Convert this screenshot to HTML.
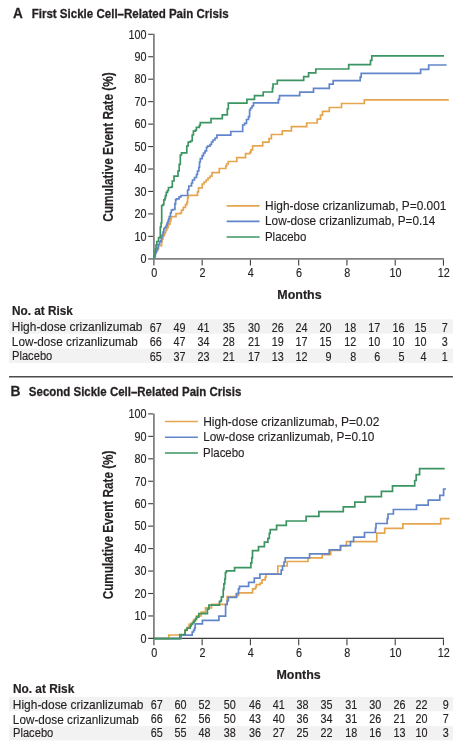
<!DOCTYPE html>
<html><head><meta charset="utf-8"><title>Figure</title>
<style>
html,body{margin:0;padding:0;background:#fff;}
body{width:461px;height:755px;overflow:hidden;}
svg{display:block;font-family:"Liberation Sans", sans-serif;}
</style></head>
<body>
<svg width="461" height="755" viewBox="0 0 461 755">
<rect width="461" height="755" fill="#fff"/>
<g style="opacity:0.995">
<text x="14.13" y="18.20" transform="scale(0.92,1)" font-size="14.8" font-weight="bold" fill="#231f20" stroke="#231f20" stroke-width="0.25">A</text>
<text x="36.70" y="17.90" transform="scale(0.8621,1)" font-size="13.4" font-weight="bold" fill="#231f20" stroke="#231f20" stroke-width="0.3">First Sickle Cell–Related Pain Crisis</text>
<text transform="translate(113.3,221.7) rotate(-90) scale(0.842,1)" font-size="14" font-weight="bold" fill="#231f20" stroke="#231f20" stroke-width="0.2">Cumulative Event Rate (%)</text>
<line x1="153.90" y1="33.80" x2="153.90" y2="259.70" stroke="#808080" stroke-width="1.8"/>
<line x1="148.20" y1="258.80" x2="443.96" y2="258.80" stroke="#808080" stroke-width="1.8"/>
<line x1="148.20" y1="236.35" x2="153.00" y2="236.35" stroke="#3c3c3c" stroke-width="1.1"/>
<text x="162.89" y="240.65" transform="scale(0.9,1)" font-size="12.0" font-weight="normal" text-anchor="end" fill="#231f20"  stroke="#231f20" stroke-width="0.15">10</text>
<line x1="148.20" y1="213.90" x2="153.00" y2="213.90" stroke="#3c3c3c" stroke-width="1.1"/>
<text x="162.89" y="218.20" transform="scale(0.9,1)" font-size="12.0" font-weight="normal" text-anchor="end" fill="#231f20"  stroke="#231f20" stroke-width="0.15">20</text>
<line x1="148.20" y1="191.45" x2="153.00" y2="191.45" stroke="#3c3c3c" stroke-width="1.1"/>
<text x="162.89" y="195.75" transform="scale(0.9,1)" font-size="12.0" font-weight="normal" text-anchor="end" fill="#231f20"  stroke="#231f20" stroke-width="0.15">30</text>
<line x1="148.20" y1="169.00" x2="153.00" y2="169.00" stroke="#3c3c3c" stroke-width="1.1"/>
<text x="162.89" y="173.30" transform="scale(0.9,1)" font-size="12.0" font-weight="normal" text-anchor="end" fill="#231f20"  stroke="#231f20" stroke-width="0.15">40</text>
<line x1="148.20" y1="146.55" x2="153.00" y2="146.55" stroke="#3c3c3c" stroke-width="1.1"/>
<text x="162.89" y="150.85" transform="scale(0.9,1)" font-size="12.0" font-weight="normal" text-anchor="end" fill="#231f20"  stroke="#231f20" stroke-width="0.15">50</text>
<line x1="148.20" y1="124.10" x2="153.00" y2="124.10" stroke="#3c3c3c" stroke-width="1.1"/>
<text x="162.89" y="128.40" transform="scale(0.9,1)" font-size="12.0" font-weight="normal" text-anchor="end" fill="#231f20"  stroke="#231f20" stroke-width="0.15">60</text>
<line x1="148.20" y1="101.65" x2="153.00" y2="101.65" stroke="#3c3c3c" stroke-width="1.1"/>
<text x="162.89" y="105.95" transform="scale(0.9,1)" font-size="12.0" font-weight="normal" text-anchor="end" fill="#231f20"  stroke="#231f20" stroke-width="0.15">70</text>
<line x1="148.20" y1="79.20" x2="153.00" y2="79.20" stroke="#3c3c3c" stroke-width="1.1"/>
<text x="162.89" y="83.50" transform="scale(0.9,1)" font-size="12.0" font-weight="normal" text-anchor="end" fill="#231f20"  stroke="#231f20" stroke-width="0.15">80</text>
<line x1="148.20" y1="56.75" x2="153.00" y2="56.75" stroke="#3c3c3c" stroke-width="1.1"/>
<text x="162.89" y="61.05" transform="scale(0.9,1)" font-size="12.0" font-weight="normal" text-anchor="end" fill="#231f20"  stroke="#231f20" stroke-width="0.15">90</text>
<line x1="148.20" y1="34.30" x2="153.00" y2="34.30" stroke="#3c3c3c" stroke-width="1.1"/>
<text x="162.89" y="38.60" transform="scale(0.9,1)" font-size="12.0" font-weight="normal" text-anchor="end" fill="#231f20"  stroke="#231f20" stroke-width="0.15">100</text>
<text x="162.89" y="263.10" transform="scale(0.9,1)" font-size="12.0" font-weight="normal" text-anchor="end" fill="#231f20"  stroke="#231f20" stroke-width="0.15">0</text>
<line x1="153.90" y1="259.70" x2="153.90" y2="265.60" stroke="#3c3c3c" stroke-width="1.1"/>
<text x="171.33" y="277.30" transform="scale(0.9,1)" font-size="12.0" font-weight="normal" text-anchor="middle" fill="#231f20"  stroke="#231f20" stroke-width="0.15">0</text>
<line x1="202.16" y1="259.70" x2="202.16" y2="265.60" stroke="#3c3c3c" stroke-width="1.1"/>
<text x="224.96" y="277.30" transform="scale(0.9,1)" font-size="12.0" font-weight="normal" text-anchor="middle" fill="#231f20"  stroke="#231f20" stroke-width="0.15">2</text>
<line x1="250.42" y1="259.70" x2="250.42" y2="265.60" stroke="#3c3c3c" stroke-width="1.1"/>
<text x="278.58" y="277.30" transform="scale(0.9,1)" font-size="12.0" font-weight="normal" text-anchor="middle" fill="#231f20"  stroke="#231f20" stroke-width="0.15">4</text>
<line x1="298.68" y1="259.70" x2="298.68" y2="265.60" stroke="#3c3c3c" stroke-width="1.1"/>
<text x="332.20" y="277.30" transform="scale(0.9,1)" font-size="12.0" font-weight="normal" text-anchor="middle" fill="#231f20"  stroke="#231f20" stroke-width="0.15">6</text>
<line x1="346.94" y1="259.70" x2="346.94" y2="265.60" stroke="#3c3c3c" stroke-width="1.1"/>
<text x="385.82" y="277.30" transform="scale(0.9,1)" font-size="12.0" font-weight="normal" text-anchor="middle" fill="#231f20"  stroke="#231f20" stroke-width="0.15">8</text>
<line x1="395.20" y1="259.70" x2="395.20" y2="265.60" stroke="#3c3c3c" stroke-width="1.1"/>
<text x="439.44" y="277.30" transform="scale(0.9,1)" font-size="12.0" font-weight="normal" text-anchor="middle" fill="#231f20"  stroke="#231f20" stroke-width="0.15">10</text>
<line x1="443.46" y1="259.70" x2="443.46" y2="265.60" stroke="#3c3c3c" stroke-width="1.1"/>
<text x="493.07" y="277.30" transform="scale(0.9,1)" font-size="12.0" font-weight="normal" text-anchor="middle" fill="#231f20"  stroke="#231f20" stroke-width="0.15">12</text>
<text x="266.95" y="299.30" transform="scale(1.039,1)" font-size="12.0" font-weight="bold" fill="#231f20" stroke="#231f20" stroke-width="0.2">Months</text>
<line x1="226.60" y1="205.80" x2="259.60" y2="205.80" stroke="#e5a54e" stroke-width="1.7"/>
<text x="283.03" y="209.60" transform="scale(0.9365,1)" font-size="12.7" font-weight="normal" fill="#231f20" stroke="#231f20" stroke-width="0.15">High-dose crizanlizumab, P=0.001</text>
<line x1="226.60" y1="221.40" x2="259.60" y2="221.40" stroke="#6085ca" stroke-width="1.7"/>
<text x="286.01" y="225.30" transform="scale(0.9268,1)" font-size="12.7" font-weight="normal" fill="#231f20" stroke="#231f20" stroke-width="0.15">Low-dose crizanlizumab, P=0.14</text>
<line x1="226.60" y1="237.00" x2="259.60" y2="237.00" stroke="#3a9461" stroke-width="1.7"/>
<text x="293.69" y="240.90" transform="scale(0.9023,1)" font-size="12.7" font-weight="normal" fill="#231f20" stroke="#231f20" stroke-width="0.15">Placebo</text>
<path d="M153.9,258.8 V254 H155.5 V251.5 H157.3 V249 H158.5 V245.7 H161.6 V241.9 H162 V239.2 H162.9 V236.4 H163.7 V235.5 H164.3 V233.5 H165.3 V232.2 H165.6 V230.5 H166.6 V229.5 H166.9 V227.9 H167.9 V227 H168.2 V225 H168.7 V224.1 H170 V221.1 H170.8 V218.5 H171.3 V216.6 H176 V213.7 H180.5 V213 H181.5 V210.2 H183.3 V207.4 H185.5 V204.6 H186.9 V202.4 H187.6 V198.2 H188.3 V195.4 H197.5 V191.9 H198.5 V188 H199.3 V187.9 H202.2 V184 H204 V182 H206.1 V180 H208 V178 H210 V176.1 H212 V172.6 H219.3 V168.5 H225.8 V166.2 H226.6 V164 H228.2 V161.5 H236.8 V157.6 H245.5 V153.7 H250 V152.2 H251 V149.8 H252.6 V145.9 H262.7 V142.2 H269 V138.6 H271.4 V134.5 H282.3 V130.8 H291.4 V126.7 H306.7 V123 H317.2 V119.2 H320.5 V115.2 H322.5 V111.3 H329.3 V107.5 H341.5 V103.5 H364.3 V99.8 H448.8" fill="none" stroke="#e5a54e" stroke-width="1.7" stroke-linejoin="miter" stroke-linecap="butt"/>
<path d="M153.9,258.8 V257 H155.3 V253 H156.2 V250 H157.5 V247.8 H158.2 V244.5 H159.5 V242 H160.6 V240.9 H161.4 V238 H162 V235.1 H163 V232.2 H163.8 V229 H164.5 V227.9 H165.5 V227 H166.3 V225.4 H167.2 V222.8 H168 V221 H168.6 V219 H169.3 V216.5 H170.4 V213 H171.3 V210.2 H172.8 V209.5 H174.9 V203.8 H175.6 V199.6 H176.6 V198.9 H179.1 V196.8 H181 V195.5 H187.6 V190 H188.8 V186 H191.5 V183 H192.5 V180 H194.5 V177.5 H196.5 V174.5 H197.5 V171 H198.8 V167.5 H199.5 V162 H200.3 V158.6 H202.2 V155.6 H203.5 V153 H205.1 V150.8 H206.5 V147.5 H207.5 V146.2 H210 V144.5 H211.5 V142 H213 V140 H215 V138 H216.9 V135.2 H230.8 V131.5 H242.7 V125 H244.5 V123.4 H246.5 V119.5 H248.5 V116.6 H249.6 V110 H250.5 V108 H252 V106 H253.5 V102.8 H278.4 V99.4 H279.5 V95.6 H299.7 V92.1 H313.5 V88.3 H329.3 V84.2 H333.2 V80.7 H360.2 V77.1 H361.2 V73.4 H420.6 V69.3 H428.7 V65 H446.6" fill="none" stroke="#6085ca" stroke-width="1.7" stroke-linejoin="miter" stroke-linecap="butt"/>
<path d="M153.9,258.8 V255 H154.6 V252 H155.3 V249 H156 V245 H156.8 V241.5 H158.6 V237.6 H160.3 V227 H161.1 V223 H161.7 V205.5 H163 V204.6 H163.8 V199.8 H165 V198 H165.5 V195.7 H166.3 V192.4 H167.5 V190.5 H168.5 V187.5 H171.5 V186.9 H172.3 V181 H174 V176.2 H178 V171 H179.2 V164.4 H180.3 V155 H181.5 V152.8 H186.8 V146 H188.2 V142.2 H190.5 V141 H192.2 V135 H193.4 V131.2 H195.4 V130.2 H196.4 V127.3 H199.3 V125.4 H200.3 V122.6 H211 V118.7 H222.3 V114.8 H227.3 V109 H228.3 V103.2 H246.9 V99.4 H254.5 V95.7 H263.2 V92 H272.5 V88 H273 V84 H277.3 V80.3 H303.7 V76.6 H308.6 V72.9 H315.8 V69 H348.7 V64.7 H370.5 V60.3 H371.8 V55.8 H444" fill="none" stroke="#3a9461" stroke-width="1.7" stroke-linejoin="miter" stroke-linecap="butt"/>
<rect x="9" y="319.4" width="444" height="14.3" fill="#f2f2f2"/>
<rect x="9" y="348.6" width="444" height="14.3" fill="#f2f2f2"/>
<text x="12.24" y="315.10" transform="scale(0.982,1)" font-size="12.0" font-weight="bold" fill="#231f20" stroke="#231f20" stroke-width="0.2">No. at Risk</text>
<text x="12.61" y="331.00" transform="scale(0.9406,1)" font-size="12.7" font-weight="normal" fill="#231f20" stroke="#231f20" stroke-width="0.15">High-dose crizanlizumab</text>
<text x="179.67" y="332.00" transform="scale(0.9,1)" font-size="12.0" font-weight="normal" text-anchor="end" fill="#231f20"  stroke="#231f20" stroke-width="0.15">67</text>
<text x="206.11" y="332.00" transform="scale(0.9,1)" font-size="12.0" font-weight="normal" text-anchor="end" fill="#231f20"  stroke="#231f20" stroke-width="0.15">49</text>
<text x="232.67" y="332.00" transform="scale(0.9,1)" font-size="12.0" font-weight="normal" text-anchor="end" fill="#231f20"  stroke="#231f20" stroke-width="0.15">41</text>
<text x="260.89" y="332.00" transform="scale(0.9,1)" font-size="12.0" font-weight="normal" text-anchor="end" fill="#231f20"  stroke="#231f20" stroke-width="0.15">35</text>
<text x="288.78" y="332.00" transform="scale(0.9,1)" font-size="12.0" font-weight="normal" text-anchor="end" fill="#231f20"  stroke="#231f20" stroke-width="0.15">30</text>
<text x="315.33" y="332.00" transform="scale(0.9,1)" font-size="12.0" font-weight="normal" text-anchor="end" fill="#231f20"  stroke="#231f20" stroke-width="0.15">26</text>
<text x="341.78" y="332.00" transform="scale(0.9,1)" font-size="12.0" font-weight="normal" text-anchor="end" fill="#231f20"  stroke="#231f20" stroke-width="0.15">24</text>
<text x="368.33" y="332.00" transform="scale(0.9,1)" font-size="12.0" font-weight="normal" text-anchor="end" fill="#231f20"  stroke="#231f20" stroke-width="0.15">20</text>
<text x="395.78" y="332.00" transform="scale(0.9,1)" font-size="12.0" font-weight="normal" text-anchor="end" fill="#231f20"  stroke="#231f20" stroke-width="0.15">18</text>
<text x="422.44" y="332.00" transform="scale(0.9,1)" font-size="12.0" font-weight="normal" text-anchor="end" fill="#231f20"  stroke="#231f20" stroke-width="0.15">17</text>
<text x="449.33" y="332.00" transform="scale(0.9,1)" font-size="12.0" font-weight="normal" text-anchor="end" fill="#231f20"  stroke="#231f20" stroke-width="0.15">16</text>
<text x="473.89" y="332.00" transform="scale(0.9,1)" font-size="12.0" font-weight="normal" text-anchor="end" fill="#231f20"  stroke="#231f20" stroke-width="0.15">15</text>
<text x="497.56" y="332.00" transform="scale(0.9,1)" font-size="12.0" font-weight="normal" text-anchor="end" fill="#231f20"  stroke="#231f20" stroke-width="0.15">7</text>
<text x="12.82" y="346.30" transform="scale(0.9259,1)" font-size="12.7" font-weight="normal" fill="#231f20" stroke="#231f20" stroke-width="0.15">Low-dose crizanlizumab</text>
<text x="179.67" y="346.20" transform="scale(0.9,1)" font-size="12.0" font-weight="normal" text-anchor="end" fill="#231f20"  stroke="#231f20" stroke-width="0.15">66</text>
<text x="206.11" y="346.20" transform="scale(0.9,1)" font-size="12.0" font-weight="normal" text-anchor="end" fill="#231f20"  stroke="#231f20" stroke-width="0.15">47</text>
<text x="232.67" y="346.20" transform="scale(0.9,1)" font-size="12.0" font-weight="normal" text-anchor="end" fill="#231f20"  stroke="#231f20" stroke-width="0.15">34</text>
<text x="260.89" y="346.20" transform="scale(0.9,1)" font-size="12.0" font-weight="normal" text-anchor="end" fill="#231f20"  stroke="#231f20" stroke-width="0.15">28</text>
<text x="288.78" y="346.20" transform="scale(0.9,1)" font-size="12.0" font-weight="normal" text-anchor="end" fill="#231f20"  stroke="#231f20" stroke-width="0.15">21</text>
<text x="315.33" y="346.20" transform="scale(0.9,1)" font-size="12.0" font-weight="normal" text-anchor="end" fill="#231f20"  stroke="#231f20" stroke-width="0.15">19</text>
<text x="341.78" y="346.20" transform="scale(0.9,1)" font-size="12.0" font-weight="normal" text-anchor="end" fill="#231f20"  stroke="#231f20" stroke-width="0.15">17</text>
<text x="368.33" y="346.20" transform="scale(0.9,1)" font-size="12.0" font-weight="normal" text-anchor="end" fill="#231f20"  stroke="#231f20" stroke-width="0.15">15</text>
<text x="395.78" y="346.20" transform="scale(0.9,1)" font-size="12.0" font-weight="normal" text-anchor="end" fill="#231f20"  stroke="#231f20" stroke-width="0.15">12</text>
<text x="422.44" y="346.20" transform="scale(0.9,1)" font-size="12.0" font-weight="normal" text-anchor="end" fill="#231f20"  stroke="#231f20" stroke-width="0.15">10</text>
<text x="449.33" y="346.20" transform="scale(0.9,1)" font-size="12.0" font-weight="normal" text-anchor="end" fill="#231f20"  stroke="#231f20" stroke-width="0.15">10</text>
<text x="473.89" y="346.20" transform="scale(0.9,1)" font-size="12.0" font-weight="normal" text-anchor="end" fill="#231f20"  stroke="#231f20" stroke-width="0.15">10</text>
<text x="497.56" y="346.20" transform="scale(0.9,1)" font-size="12.0" font-weight="normal" text-anchor="end" fill="#231f20"  stroke="#231f20" stroke-width="0.15">3</text>
<text x="13.67" y="360.00" transform="scale(0.8795,1)" font-size="12.7" font-weight="normal" fill="#231f20" stroke="#231f20" stroke-width="0.15">Placebo</text>
<text x="179.67" y="360.80" transform="scale(0.9,1)" font-size="12.0" font-weight="normal" text-anchor="end" fill="#231f20"  stroke="#231f20" stroke-width="0.15">65</text>
<text x="206.11" y="360.80" transform="scale(0.9,1)" font-size="12.0" font-weight="normal" text-anchor="end" fill="#231f20"  stroke="#231f20" stroke-width="0.15">37</text>
<text x="232.67" y="360.80" transform="scale(0.9,1)" font-size="12.0" font-weight="normal" text-anchor="end" fill="#231f20"  stroke="#231f20" stroke-width="0.15">23</text>
<text x="260.89" y="360.80" transform="scale(0.9,1)" font-size="12.0" font-weight="normal" text-anchor="end" fill="#231f20"  stroke="#231f20" stroke-width="0.15">21</text>
<text x="288.78" y="360.80" transform="scale(0.9,1)" font-size="12.0" font-weight="normal" text-anchor="end" fill="#231f20"  stroke="#231f20" stroke-width="0.15">17</text>
<text x="315.33" y="360.80" transform="scale(0.9,1)" font-size="12.0" font-weight="normal" text-anchor="end" fill="#231f20"  stroke="#231f20" stroke-width="0.15">13</text>
<text x="341.78" y="360.80" transform="scale(0.9,1)" font-size="12.0" font-weight="normal" text-anchor="end" fill="#231f20"  stroke="#231f20" stroke-width="0.15">12</text>
<text x="368.33" y="360.80" transform="scale(0.9,1)" font-size="12.0" font-weight="normal" text-anchor="end" fill="#231f20"  stroke="#231f20" stroke-width="0.15">9</text>
<text x="395.78" y="360.80" transform="scale(0.9,1)" font-size="12.0" font-weight="normal" text-anchor="end" fill="#231f20"  stroke="#231f20" stroke-width="0.15">8</text>
<text x="422.44" y="360.80" transform="scale(0.9,1)" font-size="12.0" font-weight="normal" text-anchor="end" fill="#231f20"  stroke="#231f20" stroke-width="0.15">6</text>
<text x="449.33" y="360.80" transform="scale(0.9,1)" font-size="12.0" font-weight="normal" text-anchor="end" fill="#231f20"  stroke="#231f20" stroke-width="0.15">5</text>
<text x="473.89" y="360.80" transform="scale(0.9,1)" font-size="12.0" font-weight="normal" text-anchor="end" fill="#231f20"  stroke="#231f20" stroke-width="0.15">4</text>
<text x="497.56" y="360.80" transform="scale(0.9,1)" font-size="12.0" font-weight="normal" text-anchor="end" fill="#231f20"  stroke="#231f20" stroke-width="0.15">1</text>
<line x1="9.00" y1="376.80" x2="452.90" y2="376.80" stroke="#4a4a4a" stroke-width="1.4"/>
<text x="11.33" y="395.90" transform="scale(0.9333,1)" font-size="14.8" font-weight="bold" fill="#231f20" stroke="#231f20" stroke-width="0.25">B</text>
<text x="33.62" y="395.60" transform="scale(0.8579,1)" font-size="13.4" font-weight="bold" fill="#231f20" stroke="#231f20" stroke-width="0.3">Second Sickle Cell–Related Pain Crisis</text>
<text transform="translate(113.2,599.3) rotate(-90) scale(0.84,1)" font-size="14" font-weight="bold" fill="#231f20" stroke="#231f20" stroke-width="0.2">Cumulative Event Rate (%)</text>
<line x1="153.90" y1="413.40" x2="153.90" y2="639.30" stroke="#808080" stroke-width="1.8"/>
<line x1="148.20" y1="638.40" x2="443.96" y2="638.40" stroke="#3a3a3a" stroke-width="1.25"/>
<line x1="148.20" y1="615.95" x2="153.00" y2="615.95" stroke="#3c3c3c" stroke-width="1.1"/>
<text x="162.89" y="620.25" transform="scale(0.9,1)" font-size="12.0" font-weight="normal" text-anchor="end" fill="#231f20"  stroke="#231f20" stroke-width="0.15">10</text>
<line x1="148.20" y1="593.50" x2="153.00" y2="593.50" stroke="#3c3c3c" stroke-width="1.1"/>
<text x="162.89" y="597.80" transform="scale(0.9,1)" font-size="12.0" font-weight="normal" text-anchor="end" fill="#231f20"  stroke="#231f20" stroke-width="0.15">20</text>
<line x1="148.20" y1="571.05" x2="153.00" y2="571.05" stroke="#3c3c3c" stroke-width="1.1"/>
<text x="162.89" y="575.35" transform="scale(0.9,1)" font-size="12.0" font-weight="normal" text-anchor="end" fill="#231f20"  stroke="#231f20" stroke-width="0.15">30</text>
<line x1="148.20" y1="548.60" x2="153.00" y2="548.60" stroke="#3c3c3c" stroke-width="1.1"/>
<text x="162.89" y="552.90" transform="scale(0.9,1)" font-size="12.0" font-weight="normal" text-anchor="end" fill="#231f20"  stroke="#231f20" stroke-width="0.15">40</text>
<line x1="148.20" y1="526.15" x2="153.00" y2="526.15" stroke="#3c3c3c" stroke-width="1.1"/>
<text x="162.89" y="530.45" transform="scale(0.9,1)" font-size="12.0" font-weight="normal" text-anchor="end" fill="#231f20"  stroke="#231f20" stroke-width="0.15">50</text>
<line x1="148.20" y1="503.70" x2="153.00" y2="503.70" stroke="#3c3c3c" stroke-width="1.1"/>
<text x="162.89" y="508.00" transform="scale(0.9,1)" font-size="12.0" font-weight="normal" text-anchor="end" fill="#231f20"  stroke="#231f20" stroke-width="0.15">60</text>
<line x1="148.20" y1="481.25" x2="153.00" y2="481.25" stroke="#3c3c3c" stroke-width="1.1"/>
<text x="162.89" y="485.55" transform="scale(0.9,1)" font-size="12.0" font-weight="normal" text-anchor="end" fill="#231f20"  stroke="#231f20" stroke-width="0.15">70</text>
<line x1="148.20" y1="458.80" x2="153.00" y2="458.80" stroke="#3c3c3c" stroke-width="1.1"/>
<text x="162.89" y="463.10" transform="scale(0.9,1)" font-size="12.0" font-weight="normal" text-anchor="end" fill="#231f20"  stroke="#231f20" stroke-width="0.15">80</text>
<line x1="148.20" y1="436.35" x2="153.00" y2="436.35" stroke="#3c3c3c" stroke-width="1.1"/>
<text x="162.89" y="440.65" transform="scale(0.9,1)" font-size="12.0" font-weight="normal" text-anchor="end" fill="#231f20"  stroke="#231f20" stroke-width="0.15">90</text>
<line x1="148.20" y1="413.90" x2="153.00" y2="413.90" stroke="#3c3c3c" stroke-width="1.1"/>
<text x="162.89" y="418.20" transform="scale(0.9,1)" font-size="12.0" font-weight="normal" text-anchor="end" fill="#231f20"  stroke="#231f20" stroke-width="0.15">100</text>
<text x="162.89" y="642.70" transform="scale(0.9,1)" font-size="12.0" font-weight="normal" text-anchor="end" fill="#231f20"  stroke="#231f20" stroke-width="0.15">0</text>
<line x1="153.90" y1="639.30" x2="153.90" y2="645.20" stroke="#3c3c3c" stroke-width="1.1"/>
<text x="171.33" y="656.90" transform="scale(0.9,1)" font-size="12.0" font-weight="normal" text-anchor="middle" fill="#231f20"  stroke="#231f20" stroke-width="0.15">0</text>
<line x1="202.16" y1="639.30" x2="202.16" y2="645.20" stroke="#3c3c3c" stroke-width="1.1"/>
<text x="224.96" y="656.90" transform="scale(0.9,1)" font-size="12.0" font-weight="normal" text-anchor="middle" fill="#231f20"  stroke="#231f20" stroke-width="0.15">2</text>
<line x1="250.42" y1="639.30" x2="250.42" y2="645.20" stroke="#3c3c3c" stroke-width="1.1"/>
<text x="278.58" y="656.90" transform="scale(0.9,1)" font-size="12.0" font-weight="normal" text-anchor="middle" fill="#231f20"  stroke="#231f20" stroke-width="0.15">4</text>
<line x1="298.68" y1="639.30" x2="298.68" y2="645.20" stroke="#3c3c3c" stroke-width="1.1"/>
<text x="332.20" y="656.90" transform="scale(0.9,1)" font-size="12.0" font-weight="normal" text-anchor="middle" fill="#231f20"  stroke="#231f20" stroke-width="0.15">6</text>
<line x1="346.94" y1="639.30" x2="346.94" y2="645.20" stroke="#3c3c3c" stroke-width="1.1"/>
<text x="385.82" y="656.90" transform="scale(0.9,1)" font-size="12.0" font-weight="normal" text-anchor="middle" fill="#231f20"  stroke="#231f20" stroke-width="0.15">8</text>
<line x1="395.20" y1="639.30" x2="395.20" y2="645.20" stroke="#3c3c3c" stroke-width="1.1"/>
<text x="439.44" y="656.90" transform="scale(0.9,1)" font-size="12.0" font-weight="normal" text-anchor="middle" fill="#231f20"  stroke="#231f20" stroke-width="0.15">10</text>
<line x1="443.46" y1="639.30" x2="443.46" y2="645.20" stroke="#3c3c3c" stroke-width="1.1"/>
<text x="493.07" y="656.90" transform="scale(0.9,1)" font-size="12.0" font-weight="normal" text-anchor="middle" fill="#231f20"  stroke="#231f20" stroke-width="0.15">12</text>
<text x="266.70" y="678.90" transform="scale(1.0366,1)" font-size="12.0" font-weight="bold" fill="#231f20" stroke="#231f20" stroke-width="0.2">Months</text>
<line x1="164.90" y1="421.50" x2="197.90" y2="421.50" stroke="#e5a54e" stroke-width="1.7"/>
<text x="214.88" y="425.80" transform="scale(0.9454,1)" font-size="12.7" font-weight="normal" fill="#231f20" stroke="#231f20" stroke-width="0.15">High-dose crizanlizumab, P=0.02</text>
<line x1="164.90" y1="437.25" x2="197.90" y2="437.25" stroke="#6085ca" stroke-width="1.7"/>
<text x="217.95" y="441.40" transform="scale(0.9322,1)" font-size="12.7" font-weight="normal" fill="#231f20" stroke="#231f20" stroke-width="0.15">Low-dose crizanlizumab, P=0.10</text>
<line x1="164.90" y1="453.00" x2="197.90" y2="453.00" stroke="#3a9461" stroke-width="1.7"/>
<text x="225.09" y="457.00" transform="scale(0.9023,1)" font-size="12.7" font-weight="normal" fill="#231f20" stroke="#231f20" stroke-width="0.15">Placebo</text>
<path d="M153.9,638.6 H168.8 V635 H184.8 V630.5 H186.5 V628.5 H187.3 V627.3 H189.1 V624.3 H190.5 V623.5 H193.3 V620.5 H194 V619.5 H196.6 V616.2 H197.5 V615.8 H201.2 V612.2 H205.5 V607.9 H211.5 V604.3 H227.1 V596.7 H237.2 V595.3 H238.5 V592.9 H252.6 V588.8 H255.5 V587.2 H256.3 V584.7 H260.3 V583.1 H262 V579.9 H265.2 V577.4 H266 V574.2 H277.8 V566 H287.2 V561.5 H308 V557.8 H322.2 V554.6 H330.7 V550.5 H340.5 V545.8 H346.4 V541.7 H376.8 V533.2 H384.7 V528.4 H402.9 V523.9 H440.7 V518.7 H449.6" fill="none" stroke="#e5a54e" stroke-width="1.7" stroke-linejoin="miter" stroke-linecap="butt"/>
<path d="M153.9,638.6 H181.2 V635.2 H192.2 V632 H193.6 V630.2 H194.6 V628.1 H195.2 V623.8 H202.4 V620.4 H218.9 V616.1 H225.6 V604.5 H227.2 V601 H228.3 V597.4 H236.3 V593.7 H238.5 V588.8 H239.5 V586.4 H248.6 V582.3 H254.3 V578.2 H259.9 V574.2 H281.2 V570.1 H282.5 V566 H284 V562 H285.2 V557.9 H309.6 V553.8 H329.2 V549.8 H340.5 V545.7 H350.5 V541.5 H353.6 V537.2 H364.5 V532.5 H375.4 V528 H376 V523.5 H387.2 V518.7 H388 V514 H393.4 V509.5 H416.5 V505.2 H428.2 V500.1 H439.8 V495.3 H443.6 V489 H446" fill="none" stroke="#6085ca" stroke-width="1.7" stroke-linejoin="miter" stroke-linecap="butt"/>
<path d="M153.9,638.6 H179.8 V634.5 H185.1 V630.2 H187.2 V628.1 H190.2 V626 H191.2 V624.4 H192.4 V622.5 H194.2 V621 H195.4 V619 H196.4 V617.2 H198.8 V613.7 H207.4 V609.1 H208.9 V605.1 H219.5 V601.3 H221 V600.4 H221.4 V596.8 H223.2 V590 H223.5 V588.8 H223.9 V583.9 H224.8 V579 H225.4 V572.5 H226.4 V570.9 H234.6 V567.7 H250.9 V562.8 H251.8 V557.9 H252.5 V550.6 H258.5 V546.6 H264.4 V542.2 H267.9 V538.3 H269.3 V533.4 H270.2 V529.6 H276.6 V525.3 H286.3 V521 H306.1 V516.3 H318.9 V511.7 H343.3 V506.8 H354.8 V502.2 H365.3 V496.7 H381.4 V491.3 H392.5 V485.9 H414.7 V480.5 H416.2 V474.6 H419.6 V468.7 H444.7" fill="none" stroke="#3a9461" stroke-width="1.7" stroke-linejoin="miter" stroke-linecap="butt"/>
<rect x="9" y="696.9" width="444" height="14.3" fill="#f2f2f2"/>
<rect x="9" y="726.1" width="444" height="14.3" fill="#f2f2f2"/>
<text x="13.04" y="692.60" transform="scale(0.9902,1)" font-size="12.0" font-weight="bold" fill="#231f20" stroke="#231f20" stroke-width="0.2">No. at Risk</text>
<text x="13.67" y="708.60" transform="scale(0.9406,1)" font-size="12.7" font-weight="normal" fill="#231f20" stroke="#231f20" stroke-width="0.15">High-dose crizanlizumab</text>
<text x="180.78" y="708.60" transform="scale(0.9,1)" font-size="12.0" font-weight="normal" text-anchor="end" fill="#231f20"  stroke="#231f20" stroke-width="0.15">67</text>
<text x="207.22" y="708.60" transform="scale(0.9,1)" font-size="12.0" font-weight="normal" text-anchor="end" fill="#231f20"  stroke="#231f20" stroke-width="0.15">60</text>
<text x="233.78" y="708.60" transform="scale(0.9,1)" font-size="12.0" font-weight="normal" text-anchor="end" fill="#231f20"  stroke="#231f20" stroke-width="0.15">52</text>
<text x="262.00" y="708.60" transform="scale(0.9,1)" font-size="12.0" font-weight="normal" text-anchor="end" fill="#231f20"  stroke="#231f20" stroke-width="0.15">50</text>
<text x="289.89" y="708.60" transform="scale(0.9,1)" font-size="12.0" font-weight="normal" text-anchor="end" fill="#231f20"  stroke="#231f20" stroke-width="0.15">46</text>
<text x="316.44" y="708.60" transform="scale(0.9,1)" font-size="12.0" font-weight="normal" text-anchor="end" fill="#231f20"  stroke="#231f20" stroke-width="0.15">41</text>
<text x="342.89" y="708.60" transform="scale(0.9,1)" font-size="12.0" font-weight="normal" text-anchor="end" fill="#231f20"  stroke="#231f20" stroke-width="0.15">38</text>
<text x="369.44" y="708.60" transform="scale(0.9,1)" font-size="12.0" font-weight="normal" text-anchor="end" fill="#231f20"  stroke="#231f20" stroke-width="0.15">35</text>
<text x="396.89" y="708.60" transform="scale(0.9,1)" font-size="12.0" font-weight="normal" text-anchor="end" fill="#231f20"  stroke="#231f20" stroke-width="0.15">31</text>
<text x="423.56" y="708.60" transform="scale(0.9,1)" font-size="12.0" font-weight="normal" text-anchor="end" fill="#231f20"  stroke="#231f20" stroke-width="0.15">30</text>
<text x="450.44" y="708.60" transform="scale(0.9,1)" font-size="12.0" font-weight="normal" text-anchor="end" fill="#231f20"  stroke="#231f20" stroke-width="0.15">26</text>
<text x="475.00" y="708.60" transform="scale(0.9,1)" font-size="12.0" font-weight="normal" text-anchor="end" fill="#231f20"  stroke="#231f20" stroke-width="0.15">22</text>
<text x="498.67" y="708.60" transform="scale(0.9,1)" font-size="12.0" font-weight="normal" text-anchor="end" fill="#231f20"  stroke="#231f20" stroke-width="0.15">9</text>
<text x="13.90" y="723.60" transform="scale(0.9259,1)" font-size="12.7" font-weight="normal" fill="#231f20" stroke="#231f20" stroke-width="0.15">Low-dose crizanlizumab</text>
<text x="180.78" y="722.80" transform="scale(0.9,1)" font-size="12.0" font-weight="normal" text-anchor="end" fill="#231f20"  stroke="#231f20" stroke-width="0.15">66</text>
<text x="207.22" y="722.80" transform="scale(0.9,1)" font-size="12.0" font-weight="normal" text-anchor="end" fill="#231f20"  stroke="#231f20" stroke-width="0.15">62</text>
<text x="233.78" y="722.80" transform="scale(0.9,1)" font-size="12.0" font-weight="normal" text-anchor="end" fill="#231f20"  stroke="#231f20" stroke-width="0.15">56</text>
<text x="262.00" y="722.80" transform="scale(0.9,1)" font-size="12.0" font-weight="normal" text-anchor="end" fill="#231f20"  stroke="#231f20" stroke-width="0.15">50</text>
<text x="289.89" y="722.80" transform="scale(0.9,1)" font-size="12.0" font-weight="normal" text-anchor="end" fill="#231f20"  stroke="#231f20" stroke-width="0.15">43</text>
<text x="316.44" y="722.80" transform="scale(0.9,1)" font-size="12.0" font-weight="normal" text-anchor="end" fill="#231f20"  stroke="#231f20" stroke-width="0.15">40</text>
<text x="342.89" y="722.80" transform="scale(0.9,1)" font-size="12.0" font-weight="normal" text-anchor="end" fill="#231f20"  stroke="#231f20" stroke-width="0.15">36</text>
<text x="369.44" y="722.80" transform="scale(0.9,1)" font-size="12.0" font-weight="normal" text-anchor="end" fill="#231f20"  stroke="#231f20" stroke-width="0.15">34</text>
<text x="396.89" y="722.80" transform="scale(0.9,1)" font-size="12.0" font-weight="normal" text-anchor="end" fill="#231f20"  stroke="#231f20" stroke-width="0.15">31</text>
<text x="423.56" y="722.80" transform="scale(0.9,1)" font-size="12.0" font-weight="normal" text-anchor="end" fill="#231f20"  stroke="#231f20" stroke-width="0.15">26</text>
<text x="450.44" y="722.80" transform="scale(0.9,1)" font-size="12.0" font-weight="normal" text-anchor="end" fill="#231f20"  stroke="#231f20" stroke-width="0.15">21</text>
<text x="475.00" y="722.80" transform="scale(0.9,1)" font-size="12.0" font-weight="normal" text-anchor="end" fill="#231f20"  stroke="#231f20" stroke-width="0.15">20</text>
<text x="498.67" y="722.80" transform="scale(0.9,1)" font-size="12.0" font-weight="normal" text-anchor="end" fill="#231f20"  stroke="#231f20" stroke-width="0.15">7</text>
<text x="14.80" y="737.50" transform="scale(0.8795,1)" font-size="12.7" font-weight="normal" fill="#231f20" stroke="#231f20" stroke-width="0.15">Placebo</text>
<text x="180.78" y="737.40" transform="scale(0.9,1)" font-size="12.0" font-weight="normal" text-anchor="end" fill="#231f20"  stroke="#231f20" stroke-width="0.15">65</text>
<text x="207.22" y="737.40" transform="scale(0.9,1)" font-size="12.0" font-weight="normal" text-anchor="end" fill="#231f20"  stroke="#231f20" stroke-width="0.15">55</text>
<text x="233.78" y="737.40" transform="scale(0.9,1)" font-size="12.0" font-weight="normal" text-anchor="end" fill="#231f20"  stroke="#231f20" stroke-width="0.15">48</text>
<text x="262.00" y="737.40" transform="scale(0.9,1)" font-size="12.0" font-weight="normal" text-anchor="end" fill="#231f20"  stroke="#231f20" stroke-width="0.15">38</text>
<text x="289.89" y="737.40" transform="scale(0.9,1)" font-size="12.0" font-weight="normal" text-anchor="end" fill="#231f20"  stroke="#231f20" stroke-width="0.15">36</text>
<text x="316.44" y="737.40" transform="scale(0.9,1)" font-size="12.0" font-weight="normal" text-anchor="end" fill="#231f20"  stroke="#231f20" stroke-width="0.15">27</text>
<text x="342.89" y="737.40" transform="scale(0.9,1)" font-size="12.0" font-weight="normal" text-anchor="end" fill="#231f20"  stroke="#231f20" stroke-width="0.15">25</text>
<text x="369.44" y="737.40" transform="scale(0.9,1)" font-size="12.0" font-weight="normal" text-anchor="end" fill="#231f20"  stroke="#231f20" stroke-width="0.15">22</text>
<text x="396.89" y="737.40" transform="scale(0.9,1)" font-size="12.0" font-weight="normal" text-anchor="end" fill="#231f20"  stroke="#231f20" stroke-width="0.15">18</text>
<text x="423.56" y="737.40" transform="scale(0.9,1)" font-size="12.0" font-weight="normal" text-anchor="end" fill="#231f20"  stroke="#231f20" stroke-width="0.15">16</text>
<text x="450.44" y="737.40" transform="scale(0.9,1)" font-size="12.0" font-weight="normal" text-anchor="end" fill="#231f20"  stroke="#231f20" stroke-width="0.15">13</text>
<text x="475.00" y="737.40" transform="scale(0.9,1)" font-size="12.0" font-weight="normal" text-anchor="end" fill="#231f20"  stroke="#231f20" stroke-width="0.15">10</text>
<text x="498.67" y="737.40" transform="scale(0.9,1)" font-size="12.0" font-weight="normal" text-anchor="end" fill="#231f20"  stroke="#231f20" stroke-width="0.15">3</text>
</g>
</svg>
</body></html>
